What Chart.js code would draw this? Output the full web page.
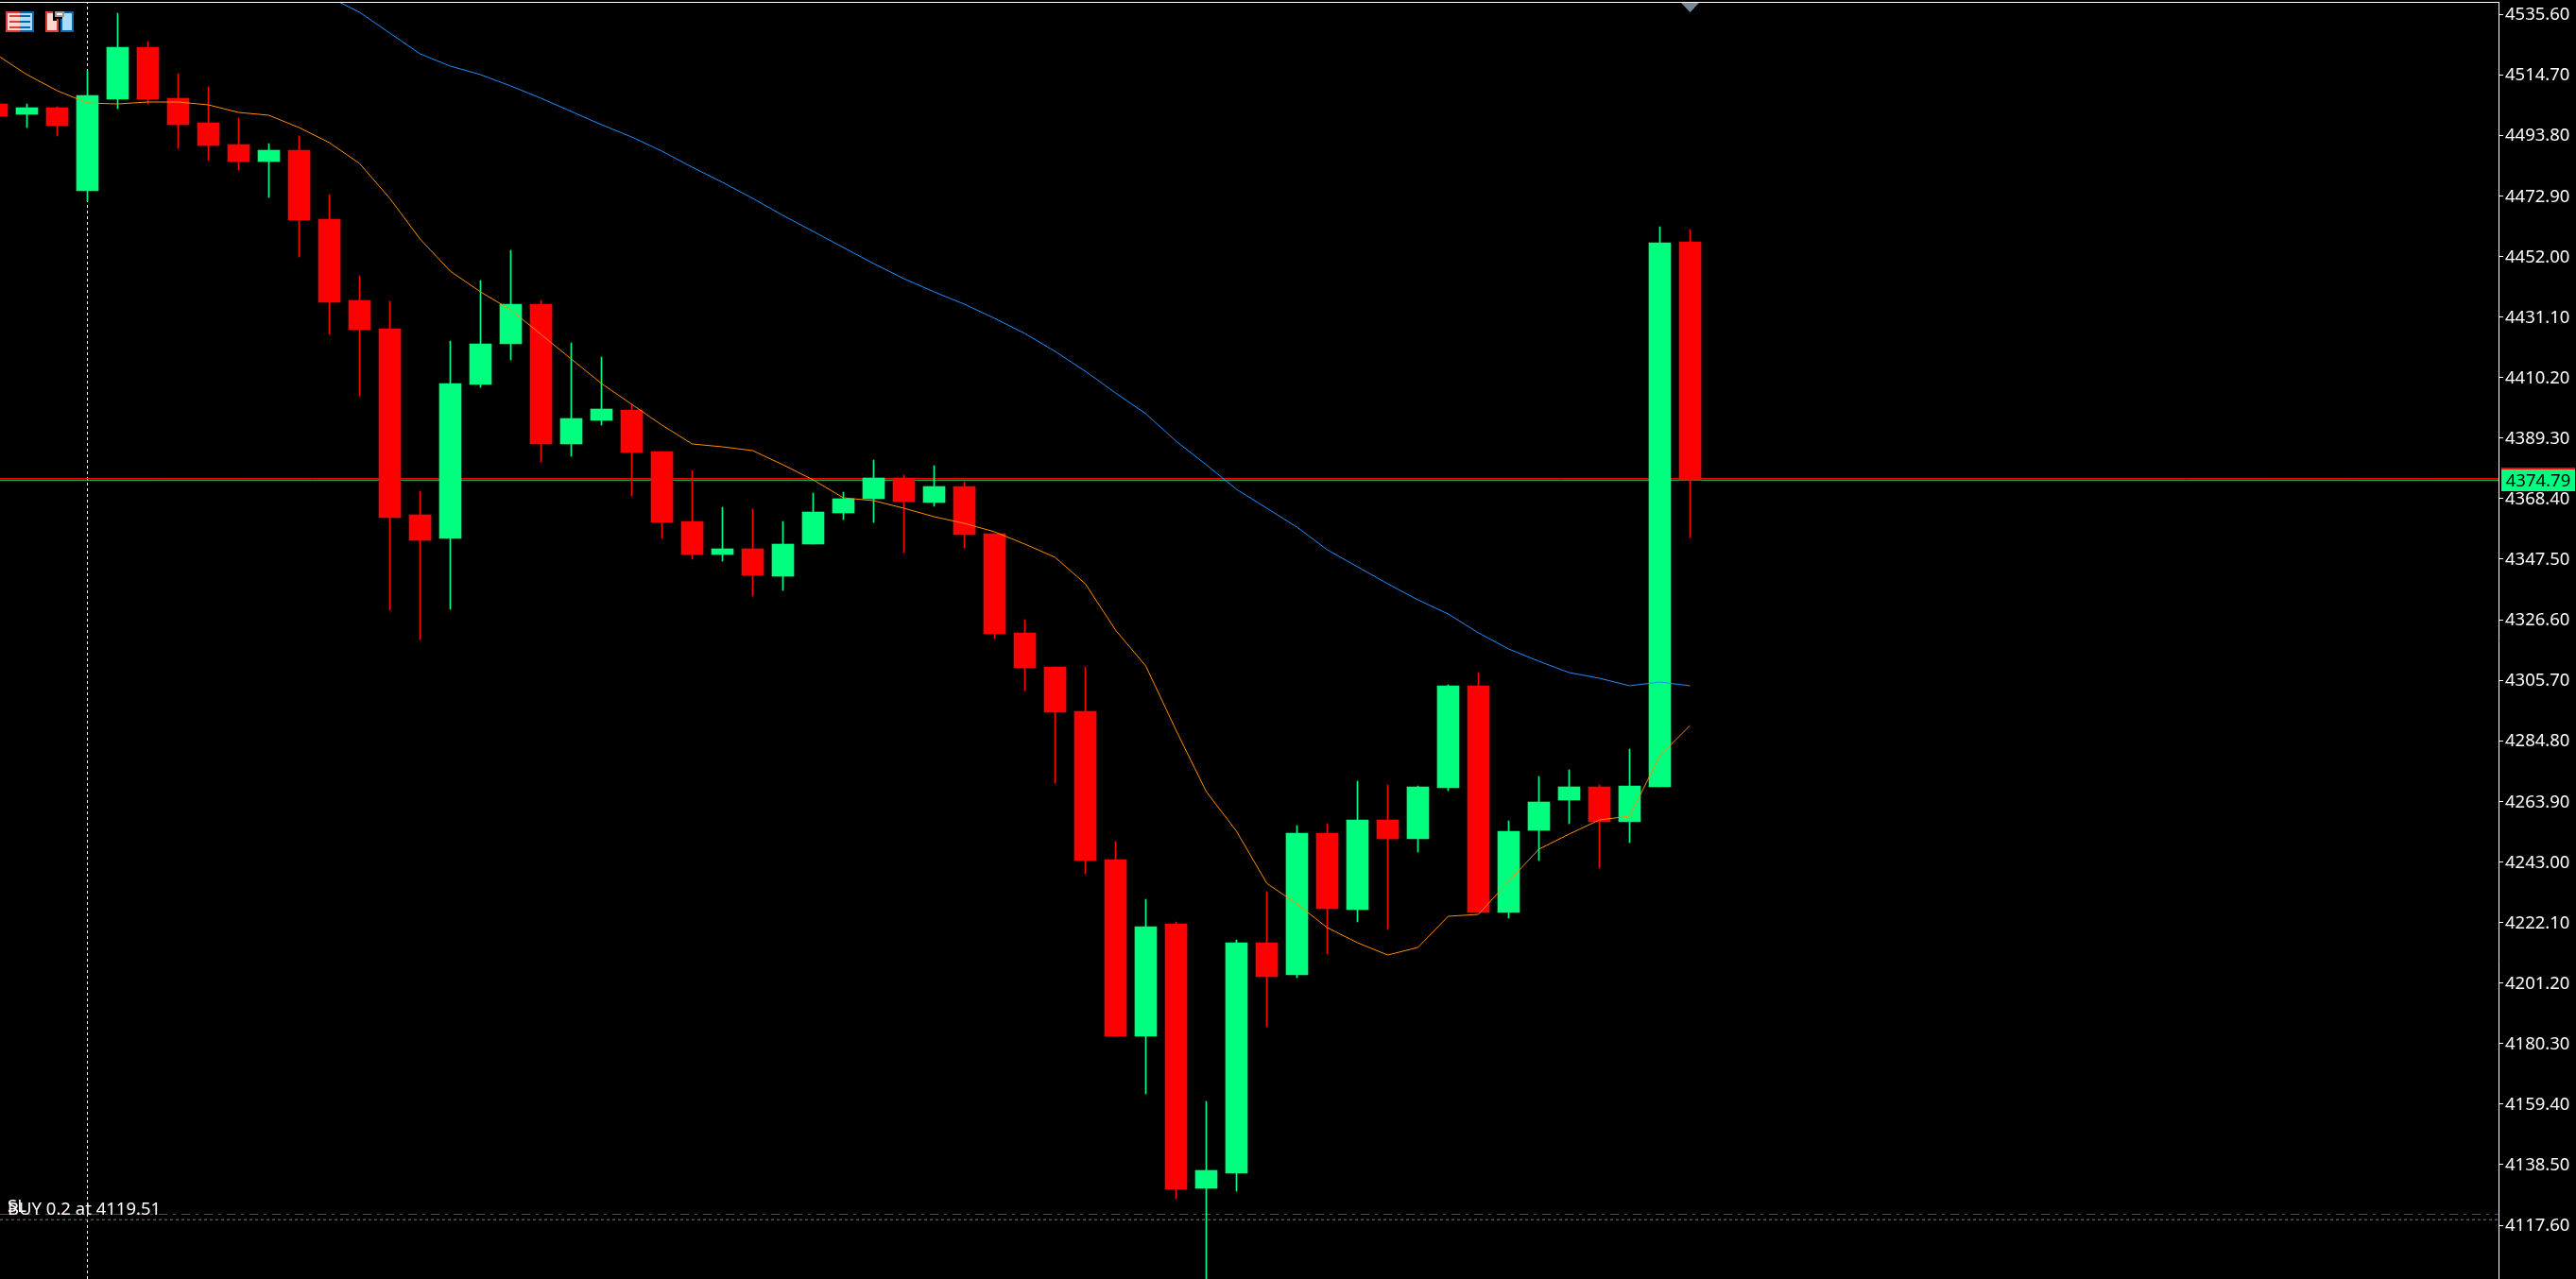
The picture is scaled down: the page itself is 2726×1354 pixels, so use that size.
<!DOCTYPE html>
<html>
<head>
<meta charset="utf-8">
<title>Chart</title>
<script src="https://cdn.jsdelivr.net/npm/chart.js@4/dist/chart.umd.min.js"></script>
<style>
  html, body { margin: 0; padding: 0; background: #000; overflow: hidden; }
  canvas { display: block; }
</style>
</head>
<body>
<canvas id="priceChart" width="2726" height="1354"></canvas>
<script>
// candles, oldest first
var opens = [4504.62, 4501.04, 4503.32, 4474.63, 4506.25, 4524.19, 4506.58, 4498.10, 4490.60, 4484.74,
    4488.65, 4464.85, 4436.81, 4427.02, 4362.79, 4354.64, 4407.79, 4421.81, 4435.50, 4387.25,
    4395.40, 4398.98, 4384.64, 4360.51, 4349.10, 4351.06, 4341.60, 4352.69, 4363.44, 4368.34,
    4375.51, 4367.03, 4372.57, 4356.27, 4322.04, 4310.30, 4294.97, 4243.78, 4182.81, 4221.61,
    4130.32, 4135.54, 4215.09, 4204.01, 4252.91, 4226.50, 4257.48, 4250.96, 4268.56, 4303.78,
    4225.53, 4253.89, 4264.33, 4268.89, 4256.83, 4268.89, 4457.02];
var highs = [4504.62, 4504.62, 4503.65, 4516.04, 4535.93, 4526.14, 4515.06, 4510.49, 4499.73, 4490.93,
    4493.54, 4473.32, 4445.28, 4436.48, 4370.94, 4422.79, 4443.65, 4454.09, 4436.81, 4422.13,
    4417.24, 4400.94, 4384.64, 4378.12, 4365.40, 4364.75, 4360.51, 4370.29, 4370.62, 4381.70,
    4376.49, 4379.75, 4374.20, 4356.27, 4326.60, 4310.30, 4310.30, 4249.98, 4230.09, 4222.27,
    4160.32, 4216.07, 4232.70, 4255.52, 4256.17, 4270.85, 4269.54, 4269.22, 4304.10, 4308.34,
    4257.15, 4272.48, 4274.76, 4269.54, 4281.93, 4462.24, 4461.26];
var lows = [4500.39, 4496.47, 4493.54, 4471.04, 4502.99, 4504.62, 4489.30, 4485.06, 4481.80, 4472.35,
    4451.80, 4425.07, 4403.88, 4329.86, 4319.75, 4330.19, 4406.81, 4416.26, 4381.05, 4383.01,
    4393.77, 4369.31, 4354.64, 4347.47, 4346.82, 4334.75, 4336.71, 4352.69, 4361.16, 4360.18,
    4349.75, 4365.73, 4351.38, 4320.08, 4302.15, 4270.19, 4238.89, 4182.81, 4162.92, 4126.73,
    4090.00, 4129.34, 4186.07, 4203.03, 4211.18, 4222.27, 4219.66, 4246.39, 4267.59, 4225.53,
    4223.57, 4243.46, 4256.17, 4240.85, 4249.65, 4268.89, 4354.97];
var closes = [4500.39, 4503.32, 4497.13, 4507.56, 4524.19, 4506.25, 4497.45, 4490.28, 4484.74, 4488.65,
    4464.52, 4436.15, 4426.70, 4361.81, 4353.99, 4408.11, 4421.81, 4435.50, 4387.25, 4396.05,
    4399.31, 4384.31, 4360.18, 4349.10, 4351.06, 4341.93, 4352.69, 4363.77, 4368.34, 4375.51,
    4367.36, 4372.57, 4355.95, 4321.71, 4309.97, 4294.65, 4243.46, 4182.81, 4220.64, 4129.99,
    4136.51, 4215.09, 4203.35, 4252.91, 4226.83, 4257.48, 4250.96, 4268.89, 4303.78, 4225.53,
    4253.57, 4263.67, 4268.89, 4256.83, 4269.22, 4456.70, 4374.79];

var maFast = [4521.58, 4514.73, 4509.19, 4504.95, 4504.62, 4505.28, 4505.28, 4504.30, 4501.69, 4500.71,
    4496.47, 4491.26, 4484.08, 4472.02, 4458.00, 4446.91, 4439.74, 4433.55, 4425.07, 4416.59,
    4408.11, 4400.94, 4393.77, 4387.25, 4386.27, 4384.96, 4380.07, 4374.86, 4368.66, 4367.68,
    4365.08, 4362.14, 4359.86, 4356.92, 4352.69, 4348.12, 4338.99, 4323.01, 4310.62, 4288.45,
    4267.26, 4253.57, 4235.63, 4228.46, 4220.31, 4215.09, 4210.85, 4213.46, 4224.22, 4224.87,
    4236.29, 4247.37, 4252.59, 4257.48, 4258.78, 4279.65, 4290.08];
var maSlow = [null, null, null, null, null, null, null, null, null, null,
    null, 4541.47, 4536.25, 4529.08, 4521.91, 4517.67, 4514.73, 4510.82, 4506.58, 4502.02,
    4497.45, 4493.21, 4488.32, 4482.78, 4477.56, 4472.02, 4466.15, 4460.61, 4455.06, 4449.52,
    4444.31, 4439.74, 4435.50, 4430.61, 4425.39, 4419.20, 4412.35, 4404.85, 4397.68, 4388.22,
    4380.07, 4371.60, 4365.08, 4358.55, 4350.73, 4344.86, 4338.99, 4333.45, 4328.56, 4322.04,
    4316.49, 4312.25, 4308.34, 4306.39, 4303.78, 4305.08, 4303.78];

var tickLabels = [4535.6, 4514.7, 4493.8, 4472.9, 4452.0, 4431.1, 4410.2, 4389.3, 4368.4, 4347.5,
    4326.6, 4305.7, 4284.8, 4263.9, 4243.0, 4222.1, 4201.2, 4180.3, 4159.4, 4138.5, 4117.6];

var bidPrice = 4374.79;
var askPrice = 4375.35;
var stopPrice = 4121.35;
var buyPrice = 4119.51;
var separatorIndex = 3;

var yMin = 4099.02, yMax = 4539.84;
var xMin = 0.109375, xMax = 82.734375; // 32px per candle

var UP = '#00ff7f', DOWN = '#ff0000';
var FONT = '18.5px "Noto Sans"';

function candleColor(ctx) {
    var i = ctx.dataIndex;
    return closes[i] > opens[i] ? UP : DOWN;
}

function hline(value, color, dash, order) {
    return {
        type: 'line',
        data: [{ x: xMin, y: value }, { x: xMax, y: value }],
        borderColor: color,
        borderWidth: 1,
        borderDash: dash,
        pointRadius: 0,
        order: order
    };
}

function maLine(values, color) {
    return {
        type: 'line',
        data: values.map(function (v, i) { return { x: i, y: v }; }),
        borderColor: color,
        borderWidth: 1,
        pointRadius: 0,
        tension: 0,
        spanGaps: false,
        order: 1
    };
}

// things MT5 paints on top that are not data: frame line, icons, price tag, text
var overlay = {
    id: 'overlay',
    afterDraw: function (chart) {
        var c = chart.ctx, area = chart.chartArea, y = chart.scales.y;

        c.save();
        c.fillStyle = '#fff';
        c.fillRect(0, area.top, area.right, 1);

        // shift marker
        c.fillStyle = '#778899';
        c.beginPath();
        c.moveTo(1779, 3);
        c.lineTo(1798, 3);
        c.lineTo(1788.5, 13);
        c.closePath();
        c.fill();

        drawIcons(c);

        // price tag
        var py = y.getPixelForValue(bidPrice);
        c.fillStyle = DOWN;
        c.fillRect(2647, Math.round(py) - 13, 78, 2);
        c.fillStyle = UP;
        c.fillRect(2647, Math.round(py) - 11, 78, 23);
        c.fillStyle = '#000';
        c.font = FONT;
        c.textAlign = 'center';
        c.textBaseline = 'alphabetic';
        c.fillText(bidPrice.toFixed(2), 2686, Math.round(py) + 7);

        // order labels
        c.fillStyle = '#fff';
        c.textAlign = 'left';
        c.fillText('SL', 8, y.getPixelForValue(stopPrice) - 3);
        c.fillText('BUY 0.2 at ' + buyPrice.toFixed(2), 8, y.getPixelForValue(buyPrice) - 5);
        c.restore();
    }
};

function drawIcons(c) {
    var RED = '#dc3c3c', BLUE = '#0a64a5', PINK = '#ffd7cd', SKY = '#aadcff';
    // table icon
    c.fillStyle = RED; c.fillRect(6, 12, 15, 22);
    c.fillStyle = BLUE; c.fillRect(21, 12, 15, 22);
    c.fillStyle = PINK; c.fillRect(8, 14, 13, 18);
    c.fillStyle = SKY; c.fillRect(21, 14, 13, 18);
    c.fillStyle = RED;
    c.fillRect(10, 16, 11, 2); c.fillRect(10, 22, 11, 2); c.fillRect(10, 28, 11, 2);
    c.fillStyle = BLUE;
    c.fillRect(21, 16, 11, 2); c.fillRect(21, 22, 11, 2); c.fillRect(21, 28, 11, 2);
    // save icon
    c.fillStyle = RED; c.fillRect(48, 12, 14, 22); c.fillStyle = PINK; c.fillRect(50, 14, 10, 18);
    c.fillStyle = BLUE; c.fillRect(64, 12, 14, 22); c.fillStyle = SKY; c.fillRect(66, 14, 10, 18);
    c.fillStyle = '#000'; c.fillRect(56, 12, 10, 10);
    c.fillStyle = RED; c.fillRect(60, 20, 2, 14);
    c.fillStyle = BLUE; c.fillRect(64, 20, 2, 12);
    c.fillStyle = '#999'; c.fillRect(58, 12, 10, 6);
    c.fillStyle = '#fff'; c.fillRect(60, 14, 6, 2);
}

var indices = opens.map(function (_, i) { return i; });

new Chart(document.getElementById('priceChart'), {
    type: 'bar',
    data: {
        datasets: [
            maLine(maFast, '#ff8c00'),
            maLine(maSlow, '#1e90ff'),
            {
                // bodies
                data: indices.map(function (i) { return { x: i, y: [opens[i], closes[i]] }; }),
                backgroundColor: candleColor,
                barThickness: 23,
                grouped: false,
                borderWidth: 0,
                order: 2
            },
            {
                // wicks
                data: indices.map(function (i) { return { x: i, y: [lows[i], highs[i]] }; }),
                backgroundColor: candleColor,
                barThickness: 1,
                grouped: false,
                borderWidth: 0,
                order: 3
            },
            hline(bidPrice, UP, [], 4),
            hline(askPrice, DOWN, [], 4),
            hline(stopPrice, DOWN, [9, 6, 3, 6], 5),
            hline(buyPrice, '#808080', [3, 3], 5),
            {
                type: 'line',
                data: [{ x: separatorIndex, y: yMin }, { x: separatorIndex, y: yMax }],
                borderColor: '#fff',
                borderWidth: 1,
                borderDash: [3, 3],
                pointRadius: 0,
                order: 6
            }
        ]
    },
    options: {
        responsive: false,
        animation: false,
        events: [],
        layout: { autoPadding: false, padding: { top: 2, left: 0, right: 0, bottom: 0 } },
        plugins: { legend: { display: false }, tooltip: { enabled: false } },
        scales: {
            x: {
                type: 'linear',
                display: false,
                offset: false,
                min: xMin,
                max: xMax
            },
            y: {
                position: 'right',
                min: yMin,
                max: yMax,
                afterFit: function (scale) {
                    scale.width = 82;
                    scale.paddingTop = 0;
                    scale.paddingBottom = 0;
                },
                afterBuildTicks: function (scale) {
                    scale.ticks = tickLabels.map(function (v) { return { value: v }; });
                },
                border: { color: '#fff', width: 1 },
                grid: { drawOnChartArea: false, color: '#fff', tickLength: 5 },
                ticks: {
                    color: '#fff',
                    font: { family: '"Noto Sans"', size: 18.5 },
                    padding: 2,
                    labelOffset: 1,
                    autoSkip: false,
                    maxRotation: 0,
                    callback: function (v) { return v.toFixed(2); }
                }
            }
        }
    },
    plugins: [overlay]
});
</script>
</body>
</html>
